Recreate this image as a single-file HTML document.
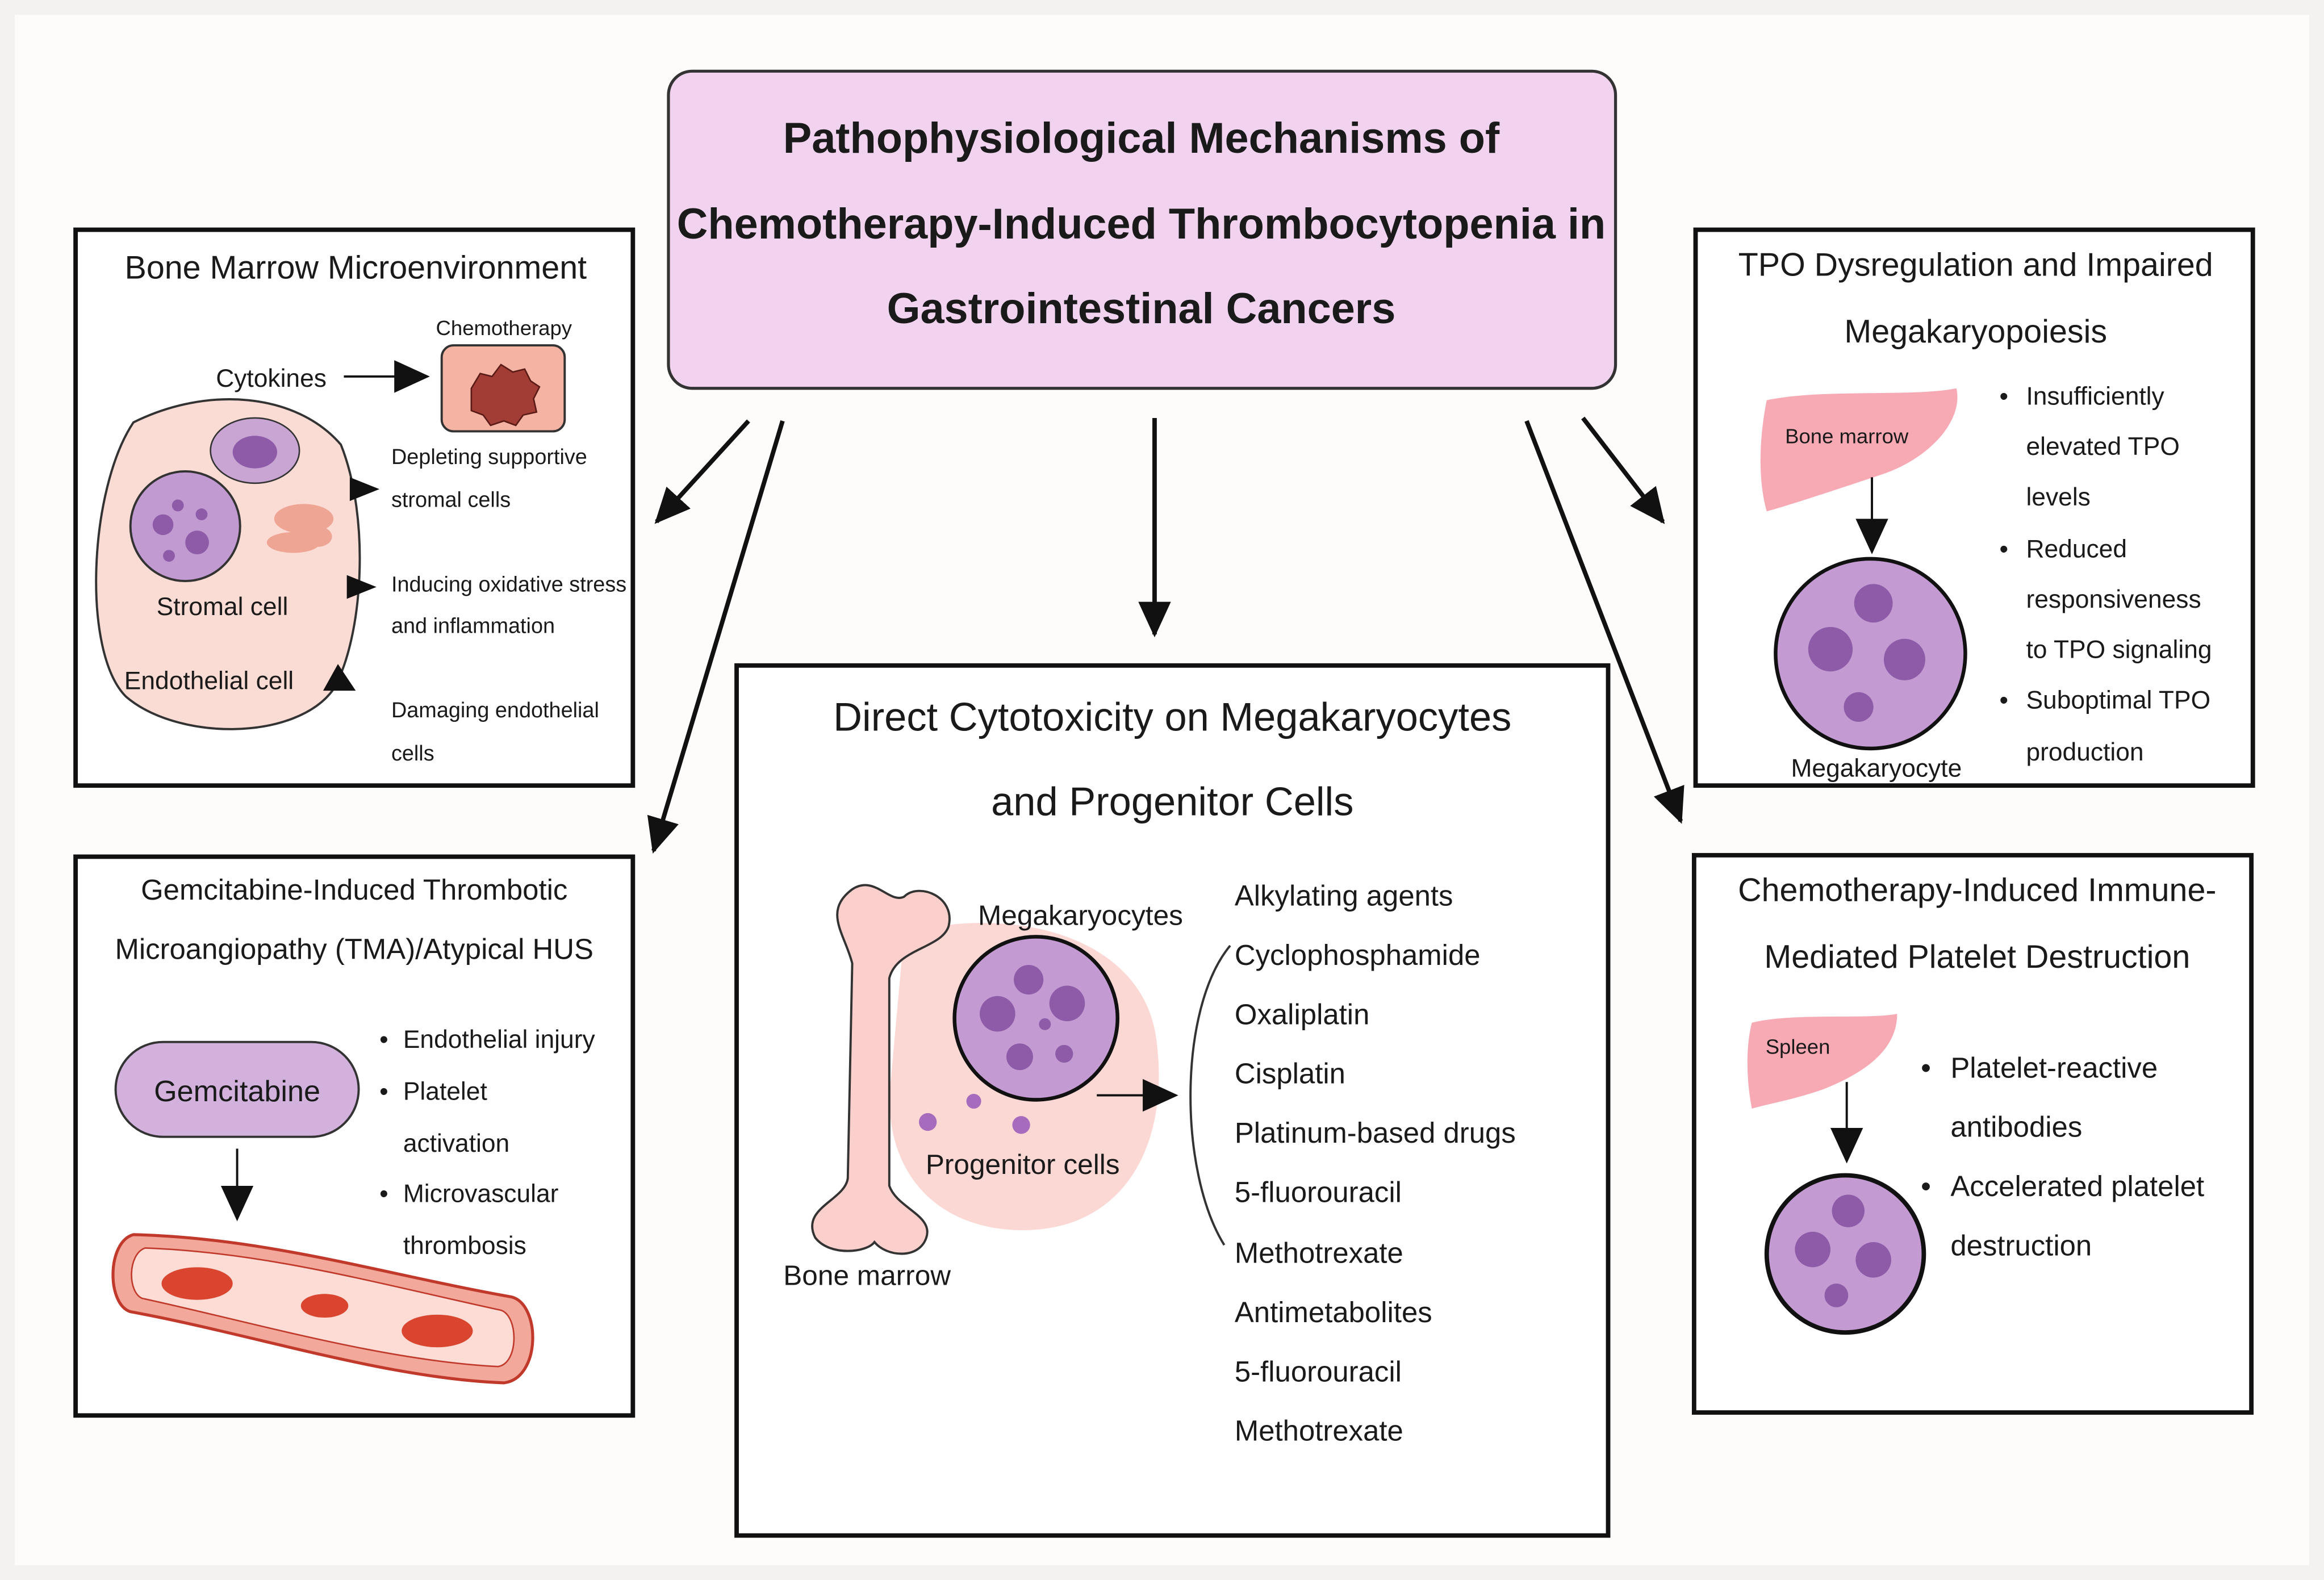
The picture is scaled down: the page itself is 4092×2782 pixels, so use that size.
<!DOCTYPE html>
<html><head><meta charset="utf-8"><style>
html,body{margin:0;padding:0;background:#fbf9f7;}
svg{display:block;}
text{font-family:"Liberation Sans",sans-serif;fill:#1a1a1a;}
</style></head><body>
<svg width="4092" height="2782" viewBox="0 0 1568 1066" xmlns="http://www.w3.org/2000/svg">
<defs>
<marker id="ah" markerWidth="10" markerHeight="10" refX="8" refY="5" orient="auto" markerUnits="userSpaceOnUse"><path d="M0,0 L10,5 L0,10 z" fill="#111"/></marker>
<marker id="ab" markerWidth="26" markerHeight="26" refX="22" refY="13" orient="auto" markerUnits="userSpaceOnUse"><path d="M0,2 L24,13 L0,24 z" fill="#111"/></marker>
</defs>
<rect x="0" y="0" width="1568" height="1066" fill="#f4f2f0"/>
<rect x="10" y="10" width="1548" height="1046" fill="#fdfcfb"/>

<!-- Title -->
<rect x="451" y="48" width="639" height="214" rx="16" fill="#f1d3ef" stroke="#333" stroke-width="2"/>
<g font-weight="bold" font-size="29" text-anchor="middle">
<text x="770" y="103">Pathophysiological Mechanisms of</text>
<text x="770" y="161">Chemotherapy-Induced Thrombocytopenia in</text>
<text x="770" y="218">Gastrointestinal Cancers</text>
</g>

<!-- Arrows -->
<g stroke="#111" stroke-width="3" fill="none">
<line x1="505" y1="284" x2="443" y2="352" marker-end="url(#ab)"/>
<line x1="528" y1="284" x2="441" y2="574" marker-end="url(#ab)"/>
<line x1="779" y1="282" x2="779" y2="428" marker-end="url(#ab)"/>
<line x1="1030" y1="284" x2="1134" y2="554" marker-end="url(#ab)"/>
<line x1="1068" y1="282" x2="1122" y2="352" marker-end="url(#ab)"/>
</g>

<!-- Bone marrow microenvironment -->
<rect x="51" y="155" width="376" height="375" fill="#fff" stroke="#111" stroke-width="3"/>
<text x="240" y="188" font-size="22" text-anchor="middle">Bone Marrow Microenvironment</text>
<text x="340" y="226" font-size="14" text-anchor="middle">Chemotherapy</text>
<rect x="298" y="233" width="83" height="58" rx="8" fill="#f5b3a4" stroke="#333" stroke-width="1.5"/>
<path d="M318,262 l6,-10 l8,2 l6,-8 l8,5 l8,-2 l4,8 l6,4 l-4,8 l2,9 l-9,2 l-5,7 l-8,-3 l-9,3 l-5,-7 l-8,-3 z" fill="#a23d36" stroke="#5a1a16"/>
<text x="183" y="261" font-size="17" text-anchor="middle">Cytokines</text>
<line x1="232" y1="254" x2="288" y2="254" stroke="#111" stroke-width="1.5" marker-end="url(#ab)"/>
<path d="M90,285 C140,260 200,265 230,300 C250,350 245,430 225,465 C200,500 120,500 85,470 C55,440 60,330 90,285 z" fill="#fbdcd4" stroke="#333" stroke-width="1.5"/>
<ellipse cx="172" cy="304" rx="30" ry="22" fill="#c9a5d4" stroke="#333"/>
<ellipse cx="172" cy="305" rx="15" ry="11" fill="#8e5ba8"/>
<circle cx="125" cy="355" r="37" fill="#c09ad0" stroke="#333" stroke-width="1.5"/>
<circle cx="110" cy="354" r="7" fill="#8e5ba8"/><circle cx="133" cy="366" r="8" fill="#8e5ba8"/><circle cx="120" cy="341" r="4" fill="#8e5ba8"/><circle cx="114" cy="375" r="4" fill="#8e5ba8"/><circle cx="136" cy="347" r="4" fill="#8e5ba8"/>
<g fill="#eea594"><ellipse cx="205" cy="350" rx="20" ry="10"/><ellipse cx="198" cy="366" rx="18" ry="7"/><ellipse cx="214" cy="362" rx="10" ry="7"/></g>
<text x="150" y="415" font-size="17" text-anchor="middle">Stromal cell</text>
<text x="141" y="465" font-size="17" text-anchor="middle">Endothelial cell</text>
<path d="M236,322 l20,8 l-20,8 z" fill="#111"/>
<path d="M234,388 l20,8 l-20,8 z" fill="#111"/>
<path d="M218,466 l10,-18 l12,18 z" fill="#111"/>
<g font-size="14.5">
<text x="264" y="313">Depleting supportive</text>
<text x="264" y="342">stromal cells</text>
<text x="264" y="399">Inducing oxidative stress</text>
<text x="264" y="427">and inflammation</text>
<text x="264" y="484">Damaging endothelial</text>
<text x="264" y="513">cells</text>
</g>

<!-- Gemcitabine -->
<rect x="51" y="578" width="376" height="377" fill="#fff" stroke="#111" stroke-width="3"/>
<text x="239" y="607" font-size="19.5" text-anchor="middle">Gemcitabine-Induced Thrombotic</text>
<text x="239" y="647" font-size="19.5" text-anchor="middle">Microangiopathy (TMA)/Atypical HUS</text>
<rect x="78" y="703" width="164" height="64" rx="32" fill="#d2b1dc" stroke="#333" stroke-width="1.5"/>
<text x="160" y="743" font-size="20" text-anchor="middle">Gemcitabine</text>
<line x1="160" y1="775" x2="160" y2="822" stroke="#111" stroke-width="1.5" marker-end="url(#ab)"/>
<path d="M90,833 C180,835 260,860 345,875 C365,880 365,930 340,933 C260,930 170,900 88,885 C72,880 72,838 90,833 z" fill="#f2a99c" stroke="#c0392b" stroke-width="2"/>
<path d="M98,842 C180,845 255,866 338,884 C350,888 350,920 336,922 C258,918 170,892 96,876 C86,872 86,846 98,842 z" fill="#fcdcd4" stroke="#c0392b" stroke-width="1"/>
<ellipse cx="133" cy="866" rx="24" ry="11" fill="#d9452e"/>
<ellipse cx="219" cy="881" rx="16" ry="8" fill="#d9452e"/>
<ellipse cx="295" cy="898" rx="24" ry="11" fill="#d9452e"/>
<g font-size="17">
<text x="256" y="707">•</text><text x="272" y="707">Endothelial injury</text>
<text x="256" y="742">•</text><text x="272" y="742">Platelet</text>
<text x="272" y="777">activation</text>
<text x="256" y="811">•</text><text x="272" y="811">Microvascular</text>
<text x="272" y="846">thrombosis</text>
</g>

<!-- Center -->
<rect x="497" y="449" width="588" height="587" fill="#fff" stroke="#111" stroke-width="3"/>
<text x="791" y="493" font-size="27" text-anchor="middle">Direct Cytotoxicity on Megakaryocytes</text>
<text x="791" y="550" font-size="27" text-anchor="middle">and Progenitor Cells</text>
<path d="M610,630 C680,610 770,630 780,700 C790,770 760,830 690,830 C640,830 600,800 600,740 z" fill="#fbd8d4"/>
<path d="M575,600 C590,590 600,610 610,605 C620,595 645,605 640,625 C635,640 605,640 600,660 L600,800 C605,815 630,820 625,835 C620,850 598,848 590,838 C585,845 560,848 550,835 C540,815 570,810 572,795 L575,650 C570,630 555,615 575,600 z" fill="#fbd0cc" stroke="#333" stroke-width="1.5"/>
<circle cx="699" cy="687" r="55" fill="#c39bd2" stroke="#111" stroke-width="2.5"/>
<circle cx="694" cy="661" r="10" fill="#8e5ba8"/><circle cx="720" cy="677" r="12" fill="#8e5ba8"/><circle cx="673" cy="684" r="12" fill="#8e5ba8"/><circle cx="688" cy="713" r="9" fill="#8e5ba8"/><circle cx="718" cy="711" r="6" fill="#8e5ba8"/><circle cx="705" cy="691" r="4" fill="#8e5ba8"/>
<circle cx="626" cy="757" r="6" fill="#a66bbd"/><circle cx="657" cy="743" r="5" fill="#a66bbd"/><circle cx="689" cy="759" r="6" fill="#a66bbd"/>
<text x="729" y="624" font-size="19" text-anchor="middle">Megakaryocytes</text>
<text x="690" y="792" font-size="19" text-anchor="middle">Progenitor cells</text>
<text x="585" y="867" font-size="19" text-anchor="middle">Bone marrow</text>
<line x1="740" y1="739" x2="793" y2="739" stroke="#111" stroke-width="1.5" marker-end="url(#ab)"/>
<path d="M830,638 C795,680 795,790 826,840" fill="none" stroke="#333" stroke-width="1.5"/>
<g font-size="19.5">
<text x="833" y="611">Alkylating agents</text>
<text x="833" y="651">Cyclophosphamide</text>
<text x="833" y="691">Oxaliplatin</text>
<text x="833" y="731">Cisplatin</text>
<text x="833" y="771">Platinum-based drugs</text>
<text x="833" y="811">5-fluorouracil</text>
<text x="833" y="852">Methotrexate</text>
<text x="833" y="892">Antimetabolites</text>
<text x="833" y="932">5-fluorouracil</text>
<text x="833" y="972">Methotrexate</text>
</g>

<!-- TPO -->
<rect x="1144" y="155" width="376" height="375" fill="#fff" stroke="#111" stroke-width="3"/>
<text x="1333" y="186" font-size="22" text-anchor="middle">TPO Dysregulation and Impaired</text>
<text x="1333" y="231" font-size="22" text-anchor="middle">Megakaryopoiesis</text>
<path d="M1192,270 C1230,262 1290,268 1320,262 C1325,285 1300,310 1270,320 C1240,330 1210,340 1192,345 C1185,320 1188,290 1192,270 z" fill="#f7a9b4"/>
<text x="1246" y="299" font-size="14" text-anchor="middle">Bone marrow</text>
<line x1="1263" y1="322" x2="1263" y2="372" stroke="#111" stroke-width="1.5" marker-end="url(#ab)"/>
<circle cx="1262" cy="441" r="64" fill="#c39bd2" stroke="#111" stroke-width="2.5"/>
<circle cx="1264" cy="407" r="13" fill="#8e5ba8"/><circle cx="1235" cy="438" r="15" fill="#8e5ba8"/><circle cx="1285" cy="445" r="14" fill="#8e5ba8"/><circle cx="1254" cy="477" r="10" fill="#8e5ba8"/>
<text x="1266" y="524" font-size="17" text-anchor="middle">Megakaryocyte</text>
<g font-size="17">
<text x="1349" y="273">•</text><text x="1367" y="273">Insufficiently</text>
<text x="1367" y="307">elevated TPO</text>
<text x="1367" y="341">levels</text>
<text x="1349" y="376">•</text><text x="1367" y="376">Reduced</text>
<text x="1367" y="410">responsiveness</text>
<text x="1367" y="444">to TPO signaling</text>
<text x="1349" y="478">•</text><text x="1367" y="478">Suboptimal TPO</text>
<text x="1367" y="513">production</text>
</g>

<!-- Immune -->
<rect x="1143" y="577" width="376" height="376" fill="#fff" stroke="#111" stroke-width="3"/>
<text x="1334" y="608" font-size="22" text-anchor="middle">Chemotherapy-Induced Immune-</text>
<text x="1334" y="653" font-size="22" text-anchor="middle">Mediated Platelet Destruction</text>
<path d="M1182,690 C1210,683 1260,688 1280,684 C1280,710 1255,725 1230,735 C1210,742 1192,745 1182,748 C1178,728 1178,705 1182,690 z" fill="#f7a9b4"/>
<text x="1213" y="711" font-size="14" text-anchor="middle">Spleen</text>
<line x1="1246" y1="730" x2="1246" y2="783" stroke="#111" stroke-width="1.5" marker-end="url(#ab)"/>
<circle cx="1245" cy="846" r="53" fill="#c39bd2" stroke="#111" stroke-width="3"/>
<circle cx="1247" cy="817" r="11" fill="#8e5ba8"/><circle cx="1223" cy="843" r="12" fill="#8e5ba8"/><circle cx="1264" cy="850" r="12" fill="#8e5ba8"/><circle cx="1239" cy="874" r="8" fill="#8e5ba8"/>
<g font-size="19.5">
<text x="1296" y="727">•</text><text x="1316" y="727">Platelet-reactive</text>
<text x="1316" y="767">antibodies</text>
<text x="1296" y="807">•</text><text x="1316" y="807">Accelerated platelet</text>
<text x="1316" y="847">destruction</text>
</g>
</svg>
</body></html>
